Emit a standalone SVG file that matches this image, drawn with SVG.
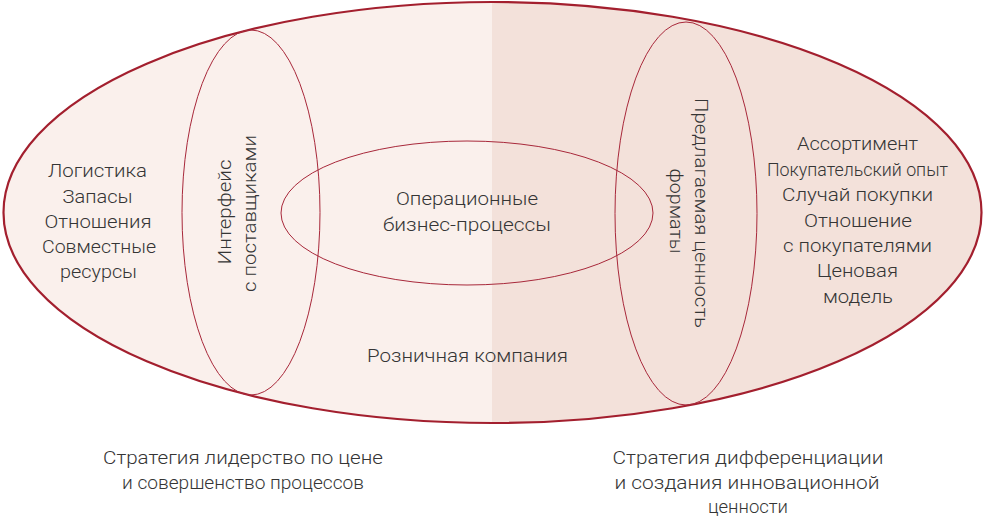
<svg xmlns="http://www.w3.org/2000/svg" width="985" height="518" viewBox="0 0 985 518">
  <defs>
    <clipPath id="mainClip">
      <ellipse cx="492.5" cy="212.5" rx="489" ry="210.5"/>
    </clipPath>
  </defs>
  <style>
    .t { font-family: Roboto, "Liberation Sans", "DejaVu Sans", sans-serif; font-weight: 300; font-size: 19px; fill: #353535; text-anchor: middle; }
    .inner { fill: none; stroke: #a8283a; stroke-width: 1; }
    .outer { fill: none; stroke: #a31f2e; stroke-width: 2.2; }
  </style>
  <rect x="0" y="0" width="985" height="518" fill="#ffffff"/>

  <g id="retail-company">
    <g clip-path="url(#mainClip)">
      <rect x="0" y="0" width="492" height="430" fill="#faf0ec"/>
      <rect x="492" y="0" width="493" height="430" fill="#f3e1da"/>
    </g>
    <ellipse class="outer" cx="492.5" cy="212.5" rx="489" ry="210.5"/>
    <text class="t" x="467.5" y="362" textLength="201" lengthAdjust="spacingAndGlyphs">Розничная компания</text>
  </g>

  <g id="supplier-interface">
    <ellipse class="inner" cx="251" cy="212.5" rx="69" ry="182.5"/>
    <text class="t" transform="translate(231 212) rotate(-90)" x="0" y="0" textLength="105" lengthAdjust="spacingAndGlyphs">Интерфейс</text>
    <text class="t" transform="translate(256 213.5) rotate(-90)" x="0" y="0" textLength="157" lengthAdjust="spacingAndGlyphs">с поставщиками</text>
  </g>

  <g id="value-proposition">
    <ellipse class="inner" cx="686" cy="213.5" rx="71" ry="191.5"/>
    <text class="t" transform="translate(695 213) rotate(90)" x="0" y="0" textLength="230" lengthAdjust="spacingAndGlyphs">Предлагаемая ценность</text>
    <text class="t" transform="translate(670 211) rotate(90)" x="0" y="0" textLength="85" lengthAdjust="spacingAndGlyphs">форматы</text>
  </g>

  <g id="operational-processes">
    <ellipse class="inner" cx="467" cy="213" rx="186" ry="72"/>
    <text class="t" x="467" y="205" textLength="142" lengthAdjust="spacingAndGlyphs">Операционные</text>
    <text class="t" x="467" y="231" textLength="168" lengthAdjust="spacingAndGlyphs">бизнес-процессы</text>
  </g>

  <g id="left-list">
    <text class="t" x="97.5" y="177" textLength="99" lengthAdjust="spacingAndGlyphs">Логистика</text>
    <text class="t" x="97.5" y="203" textLength="70" lengthAdjust="spacingAndGlyphs">Запасы</text>
    <text class="t" x="98" y="228" textLength="107" lengthAdjust="spacingAndGlyphs">Отношения</text>
    <text class="t" x="99" y="253" textLength="114" lengthAdjust="spacingAndGlyphs">Совместные</text>
    <text class="t" x="98.5" y="278" textLength="77" lengthAdjust="spacingAndGlyphs">ресурсы</text>
  </g>

  <g id="right-list">
    <text class="t" x="857.5" y="150" textLength="121" lengthAdjust="spacingAndGlyphs">Ассортимент</text>
    <text class="t" x="857.5" y="176" textLength="181" lengthAdjust="spacingAndGlyphs">Покупательский опыт</text>
    <text class="t" x="857.5" y="201" textLength="151" lengthAdjust="spacingAndGlyphs">Случай покупки</text>
    <text class="t" x="858" y="227" textLength="108" lengthAdjust="spacingAndGlyphs">Отношение</text>
    <text class="t" x="857.5" y="252" textLength="149" lengthAdjust="spacingAndGlyphs">с покупателями</text>
    <text class="t" x="857.5" y="277" textLength="81" lengthAdjust="spacingAndGlyphs">Ценовая</text>
    <text class="t" x="858" y="303" textLength="70" lengthAdjust="spacingAndGlyphs">модель</text>
  </g>

  <g id="cost-leadership-strategy">
    <text class="t" x="243" y="464" textLength="280" lengthAdjust="spacingAndGlyphs">Стратегия лидерство по цене</text>
    <text class="t" x="243" y="489" textLength="242" lengthAdjust="spacingAndGlyphs">и совершенство процессов</text>
  </g>

  <g id="differentiation-strategy">
    <text class="t" x="748" y="464" textLength="271" lengthAdjust="spacingAndGlyphs">Стратегия дифференциации</text>
    <text class="t" x="747" y="489" textLength="265" lengthAdjust="spacingAndGlyphs">и создания инновационной</text>
    <text class="t" x="748" y="513" textLength="80" lengthAdjust="spacingAndGlyphs">ценности</text>
  </g>
</svg>
